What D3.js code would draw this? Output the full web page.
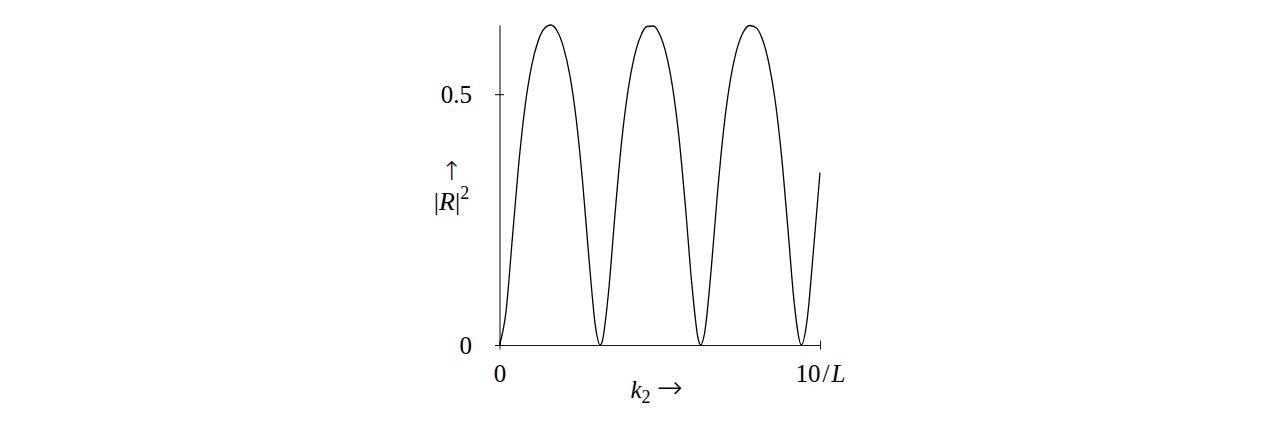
<!DOCTYPE html>
<html>
<head>
<meta charset="utf-8">
<script src="https://cdn.jsdelivr.net/npm/d3@7"></script>
<style>
  body { margin: 0; background: #fff; }
  svg text { font-family: "Liberation Serif", "DejaVu Serif", serif; fill: #000; }
  svg .arrow { font-family: "DejaVu Sans", sans-serif; font-weight: 200; }
</style>
</head>
<body>
<div id="chart"></div>
<script>
// k2 (in units of 1/L) and |R|^2
const k2 = [0, 0.2, 0.4, 0.6, 0.8, 1.0, 1.2, 1.4, 1.6, 1.8, 2.0, 2.2, 2.4, 2.6, 2.8, 3.0,
  3.14, 3.2, 3.4, 3.6, 3.8, 4.0, 4.2, 4.4, 4.6, 4.8, 5.0, 5.2, 5.4, 5.6, 5.8, 6.0, 6.2,
  6.28, 6.4, 6.6, 6.8, 7.0, 7.2, 7.4, 7.6, 7.8, 8.0, 8.2, 8.4, 8.6, 8.8, 9.0, 9.2,
  9.42, 9.6, 9.8, 10.0];
const R2 = [0, 0.065, 0.212, 0.361, 0.477, 0.556, 0.605, 0.631, 0.638, 0.626, 0.593, 0.536, 0.447, 0.320, 0.166, 0.034,
  0, 0.006, 0.104, 0.258, 0.399, 0.503, 0.573, 0.615, 0.635, 0.636, 0.619, 0.580, 0.514, 0.414, 0.277, 0.122, 0.012,
  0, 0.024, 0.147, 0.302, 0.433, 0.527, 0.588, 0.623, 0.637, 0.633, 0.610, 0.563, 0.488, 0.377, 0.231, 0.081,
  0, 0.051, 0.192, 0.344];

const xTicks = [0, 10];
const xTickLabels = ["0", "10/L"];
const yTicks = [0, 0.5];
const yTickLabels = ["0", "0.5"];

const config = {
  width: 1277,
  height: 429,
  margin: { top: 25, left: 499.5 },
  plotWidth: 320.5,
  plotHeight: 320,
};

const svg = d3.select("#chart")
  .append("svg")
  .attr("width", config.width)
  .attr("height", config.height);

const chart = svg.append("g")
  .attr("transform", `translate(${config.margin.left},${config.margin.top})`);

const xScale = d3.scaleLinear().domain([0, 10]).range([0, config.plotWidth]);
const yScale = d3.scaleLinear().domain([0, d3.max(R2)]).range([config.plotHeight, 0]);

// x axis
const xAxis = d3.axisBottom(xScale)
  .tickValues(xTicks)
  .tickSizeInner(4.5)
  .tickSizeOuter(0)
  .tickFormat((d, i) => xTickLabels[i]);

const xAxisG = chart.append("g")
  .attr("transform", `translate(0,${config.plotHeight})`)
  .call(xAxis);

xAxisG.select(".domain").attr("stroke", "#000").attr("stroke-width", 0.9);
xAxisG.selectAll(".tick line").attr("y1", -4.5).attr("y2", 4.5).attr("stroke-width", 0.9);
xAxisG.selectAll(".tick text")
  .attr("y", 37)
  .attr("dy", null)
  .style("font-size", "25px")
  .attr("font-family", null)
  .each(function (d, i) {
    const t = d3.select(this);
    if (xTickLabels[i] === "10/L") {
      t.text(null);
      t.append("tspan").text("10");
      t.append("tspan").attr("dx", 2).text("/");
      t.append("tspan").attr("dx", 2).style("font-style", "italic").text("L");
    }
  });

// y axis
const yAxis = d3.axisLeft(yScale)
  .tickValues(yTicks)
  .tickSizeInner(4.5)
  .tickSizeOuter(0)
  .tickFormat((d, i) => yTickLabels[i]);

const yAxisG = chart.append("g").call(yAxis);

yAxisG.select(".domain").attr("stroke", "#000").attr("stroke-width", 1);
yAxisG.selectAll(".tick line").attr("x1", -4.5).attr("x2", 4.5).attr("stroke-width", 1);
yAxisG.selectAll(".tick text")
  .attr("x", -27.5)
  .attr("dy", "0.35em")
  .style("font-size", "25px")
  .attr("font-family", null);

// curve
const line = d3.line()
  .x((d, i) => xScale(k2[i]))
  .y((d) => yScale(d))
  .curve(d3.curveMonotoneX);

chart.append("path")
  .datum(R2)
  .attr("d", line)
  .attr("fill", "none")
  .attr("stroke", "#000")
  .attr("stroke-width", 1.3);

// axis titles
chart.append("text")
  .attr("x", 131)
  .attr("y", 373)
  .style("font-size", "25px")
  .call((t) => {
    t.append("tspan").style("font-style", "italic").text("k");
    t.append("tspan").attr("dy", 5).style("font-size", "18px").text("2");
    t.append("tspan").attr("class", "arrow").attr("dy", -5).attr("dx", 6)
      .style("font-size", "31px").text("\u2192");
  });

chart.append("text")
  .attr("class", "arrow")
  .attr("x", -47.5)
  .attr("y", 155)
  .style("text-anchor", "middle")
  .style("font-size", "26px")
  .text("\u2191");

chart.append("text")
  .attr("x", -48)
  .attr("y", 185)
  .style("text-anchor", "middle")
  .style("font-size", "26px")
  .call((t) => {
    t.append("tspan").text("|");
    t.append("tspan").style("font-style", "italic").text("R");
    t.append("tspan").text("|");
    t.append("tspan").attr("dy", -11).style("font-size", "18px").text("2");
  });
</script>
</body>
</html>
